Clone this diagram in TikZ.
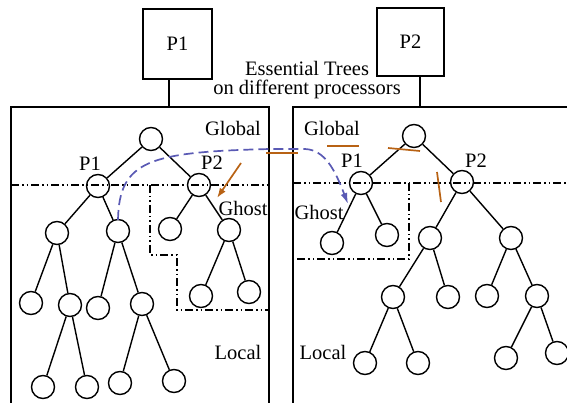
\documentclass[tikz,border=0pt]{standalone}
\usepackage{fontspec}
\setmainfont{Liberation Serif}
\usetikzlibrary{arrows.meta}
\definecolor{orng}{RGB}{184,98,20}
\definecolor{blu}{RGB}{90,90,180}
\begin{document}
\begin{tikzpicture}[x=1pt,y=-1pt,
  every node/.style={font=\fontsize{20.5}{22}\selectfont},
  nd/.style={circle,draw,line width=1.4pt,minimum size=23pt,inner sep=0pt},
  edge/.style={line width=1.4pt},
  frame/.style={line width=1.6pt},
  procbox/.style={draw,line width=1.4pt,minimum width=69pt,minimum height=70pt},
  dd/.style={line width=1.4pt,dash pattern=on 8pt off 3pt on 1.5pt off 3pt on 1.5pt off 3pt},
  lbl/.style={inner sep=0pt},
  orl/.style={draw=orng,line width=1.7pt},
  bluel/.style={draw=blu,line width=1.7pt,dash pattern=on 10pt off 5pt}]
\useasboundingbox (0,0) rectangle (567,403);
% processor boxes
\node[procbox] (P1box) at (177.5,44) {P1};
\node[procbox,minimum width=67pt,minimum height=68pt] (P2box) at (410.5,42) {P2};
\node[lbl,align=center] (ess) at (307,80) {Essential Trees\\[-3pt]on different processors};
\coordinate (ltop) at (169,107);
\coordinate (rtop) at (420,107);
\draw[edge] (P1box.south -| ltop) -- (ltop);
\draw[edge] (P2box.south -| rtop) -- (rtop);
% frames
\draw[frame] (11,404) -- (11,107) -- (269,107) -- (269,404);
\draw[frame] (293,404) -- (293,107) -- (568,107);
% dash-dot levels
\draw[dd] (11,185) -- (269,185);
\draw[dd] (293,183) -- (567,183);
\draw[dd] (150,185) -- (150,255) -- (177,255) -- (177,310) -- (269,310);
\draw[dd] (409,183) -- (409,259) -- (293,259);
% left tree
\node[nd] (lr) at (151,139) {};
\node[nd] (lp1) at (98,186) {};
\node[nd] (lp2) at (199,185) {};
\node[nd] (la) at (57,233) {};
\node[nd] (lb) at (118,231) {};
\node[nd] (lc) at (170,229) {};
\node[nd] (ld) at (229,230) {};
\node[nd] (laa) at (31,303) {};
\node[nd] (lab) at (70,305) {};
\node[nd] (lba) at (98,308) {};
\node[nd] (lbb) at (142,304) {};
\node[nd] (lda) at (201,296) {};
\node[nd] (ldb) at (249,292) {};
\node[nd] (laba) at (43,387) {};
\node[nd] (labb) at (87,387) {};
\node[nd] (lbba) at (120,383) {};
\node[nd] (lbbb) at (174,381) {};
\foreach \a/\b in {lr/lp1,lr/lp2,lp1/la,lp1/lb,lp2/lc,lp2/ld,la/laa,la/lab,lb/lba,lb/lbb,ld/lda,ld/ldb,lab/laba,lab/labb,lbb/lbba,lbb/lbbb}
  \draw[edge] (\a) -- (\b);
% right tree
\node[nd] (rr) at (414,136) {};
\node[nd] (rp1) at (361,183) {};
\node[nd] (rp2) at (462,182) {};
\node[nd] (ra) at (332,243) {};
\node[nd] (rb) at (387,235) {};
\node[nd] (rc) at (430,238) {};
\node[nd] (rd) at (511,238) {};
\node[nd] (rca) at (393,297) {};
\node[nd] (rcb) at (448,297) {};
\node[nd] (rda) at (487,296) {};
\node[nd] (rdb) at (537,296) {};
\node[nd] (rcaa) at (365,363) {};
\node[nd] (rcab) at (418,363) {};
\node[nd] (rdba) at (506,358) {};
\node[nd] (rdbb) at (557,353) {};
\foreach \a/\b in {rr/rp1,rr/rp2,rp1/ra,rp1/rb,rp2/rc,rp2/rd,rc/rca,rc/rcb,rd/rda,rd/rdb,rca/rcaa,rca/rcab,rdb/rdba,rdb/rdbb}
  \draw[edge] (\a) -- (\b);
% labels
\node[lbl] (lP1) at (90,164) {P1};
\node[lbl] (lP2) at (212,163) {P2};
\node[lbl] (lglob) at (233,128) {Global};
\node[lbl] (lghost) at (243,208) {Ghost};
\node[lbl] (llocal) at (238,352) {Local};
\node[lbl] (rP1) at (352,161) {P1};
\node[lbl] (rP2) at (476,161) {P2};
\node[lbl] (rglob) at (332,128) {Global};
\node[lbl] (rghost) at (319,212) {Ghost};
\node[lbl] (rlocal) at (323,352) {Local};
% blue dashed curve
\coordinate (bs) at (118,220);
\coordinate (be) at (348,204);
\draw[bluel,-{Latex[length=11pt,width=7pt]}] (bs) .. controls (119,160) and (150,152) .. (270,149) -- (305,149) .. controls (325,150) and (335,170) .. (be);
% orange marks
\coordinate (oa1) at (266,153); \coordinate (oa2) at (298,153);
\coordinate (ob1) at (327,146); \coordinate (ob2) at (359,146);
\coordinate (oc1) at (388,148); \coordinate (oc2) at (420,151);
\coordinate (od1) at (437,172); \coordinate (od2) at (441,202);
\coordinate (oe1) at (241,163); \coordinate (oe2) at (217,198);
\draw[orl] (oa1) -- (oa2);
\draw[orl] (ob1) -- (ob2);
\draw[orl] (oc1) -- (oc2);
\draw[orl] (od1) -- (od2);
\draw[orl,-{Latex[length=10pt,width=7pt]}] (oe1) -- (oe2);
\end{tikzpicture}
\end{document}
